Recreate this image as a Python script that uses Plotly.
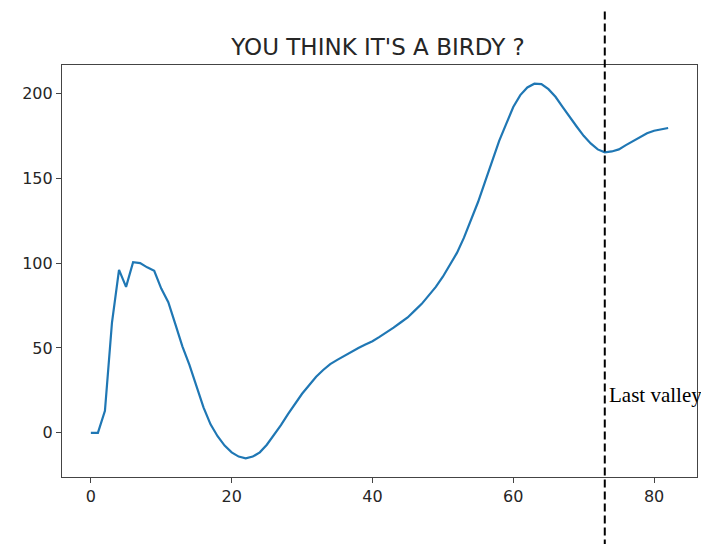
import plotly.graph_objects as go

# ---- data ----
x_values = list(range(83))
y_values = [
    0, 0, 13, 65, 96, 86, 100.5, 100, 97.5, 95.5,        # 0-9
    85, 77, 64, 51, 40, 27, 15, 5, -2, -7.5,             # 10-19
    -11.5, -14, -15, -14, -11.5, -7, -1.5, 4.5, 11, 17,  # 20-29
    23, 28, 33, 37, 40.5, 43, 45.5, 48, 50, 52,          # 30-39
    54, 56.5, 59, 62, 65, 68, 72, 76, 81, 86,            # 40-49
    92, 99, 106, 115, 125, 136, 148, 160, 172, 182,      # 50-59
    192, 199, 203.5, 205.7, 205.5, 202.5, 198, 192, 186, 180.5,  # 60-69
    175, 170.5, 167, 165.3, 165.8, 167, 169.5, 172, 174.5, 176.5, # 70-79
    178, 179, 179.6,                                      # 80-82
]
last_valley_x = 73
label_text = "Last valley"
label_x = 73.3
label_y = 22
title_text = "YOU THINK IT'S A BIRDY ?"
x_ticks = [0, 20, 40, 60, 80]
y_ticks = [0, 50, 100, 150, 200]

# matplotlib-like 5% margins
xmin, xmax = min(x_values), max(x_values)
ymin, ymax = min(y_values), max(y_values)
xpad = 0.05 * (xmax - xmin)
ypad = 0.05 * (ymax - ymin)

fig = go.Figure()
fig.add_trace(go.Scatter(
    x=x_values, y=y_values, mode="lines",
    line=dict(color="#1f77b4", width=2.2),
    showlegend=False, hoverinfo="skip",
))

fig.add_shape(
    type="line", xref="x", yref="paper",
    x0=last_valley_x, x1=last_valley_x, y0=-0.2, y1=1.15,
    line=dict(color="black", width=2, dash="8px,4px"),
    layer="above",
)

fig.add_annotation(
    x=label_x, y=label_y, xref="x", yref="y",
    text=label_text, showarrow=False,
    xanchor="left", yanchor="middle",
    font=dict(family="Liberation Serif, Times New Roman, serif", size=21, color="black"),
)

axis_common = dict(
    showgrid=False, zeroline=False,
    showline=True, mirror=True, linecolor="#444", linewidth=1.2,
    ticks="outside", ticklen=5, tickwidth=1, tickcolor="#444",
    tickfont=dict(family="DejaVu Sans, sans-serif", size=16, color="#262626"),
)

fig.update_layout(
    width=701, height=536,
    margin=dict(l=54, r=12, t=57, b=67),
    paper_bgcolor="white", plot_bgcolor="white",
    title=dict(
        text=title_text, x=370 / 701, xanchor="center",
        y=1 - 39 / 536, yanchor="middle", yref="container",
        font=dict(family="DejaVu Sans, sans-serif", size=23, color="#262626"),
    ),
    xaxis=dict(range=[xmin - xpad, xmax + xpad], tickvals=x_ticks, **axis_common),
    yaxis=dict(range=[ymin - ypad, ymax + ypad], tickvals=y_ticks, **axis_common),
)

fig.write_html("out.html")
